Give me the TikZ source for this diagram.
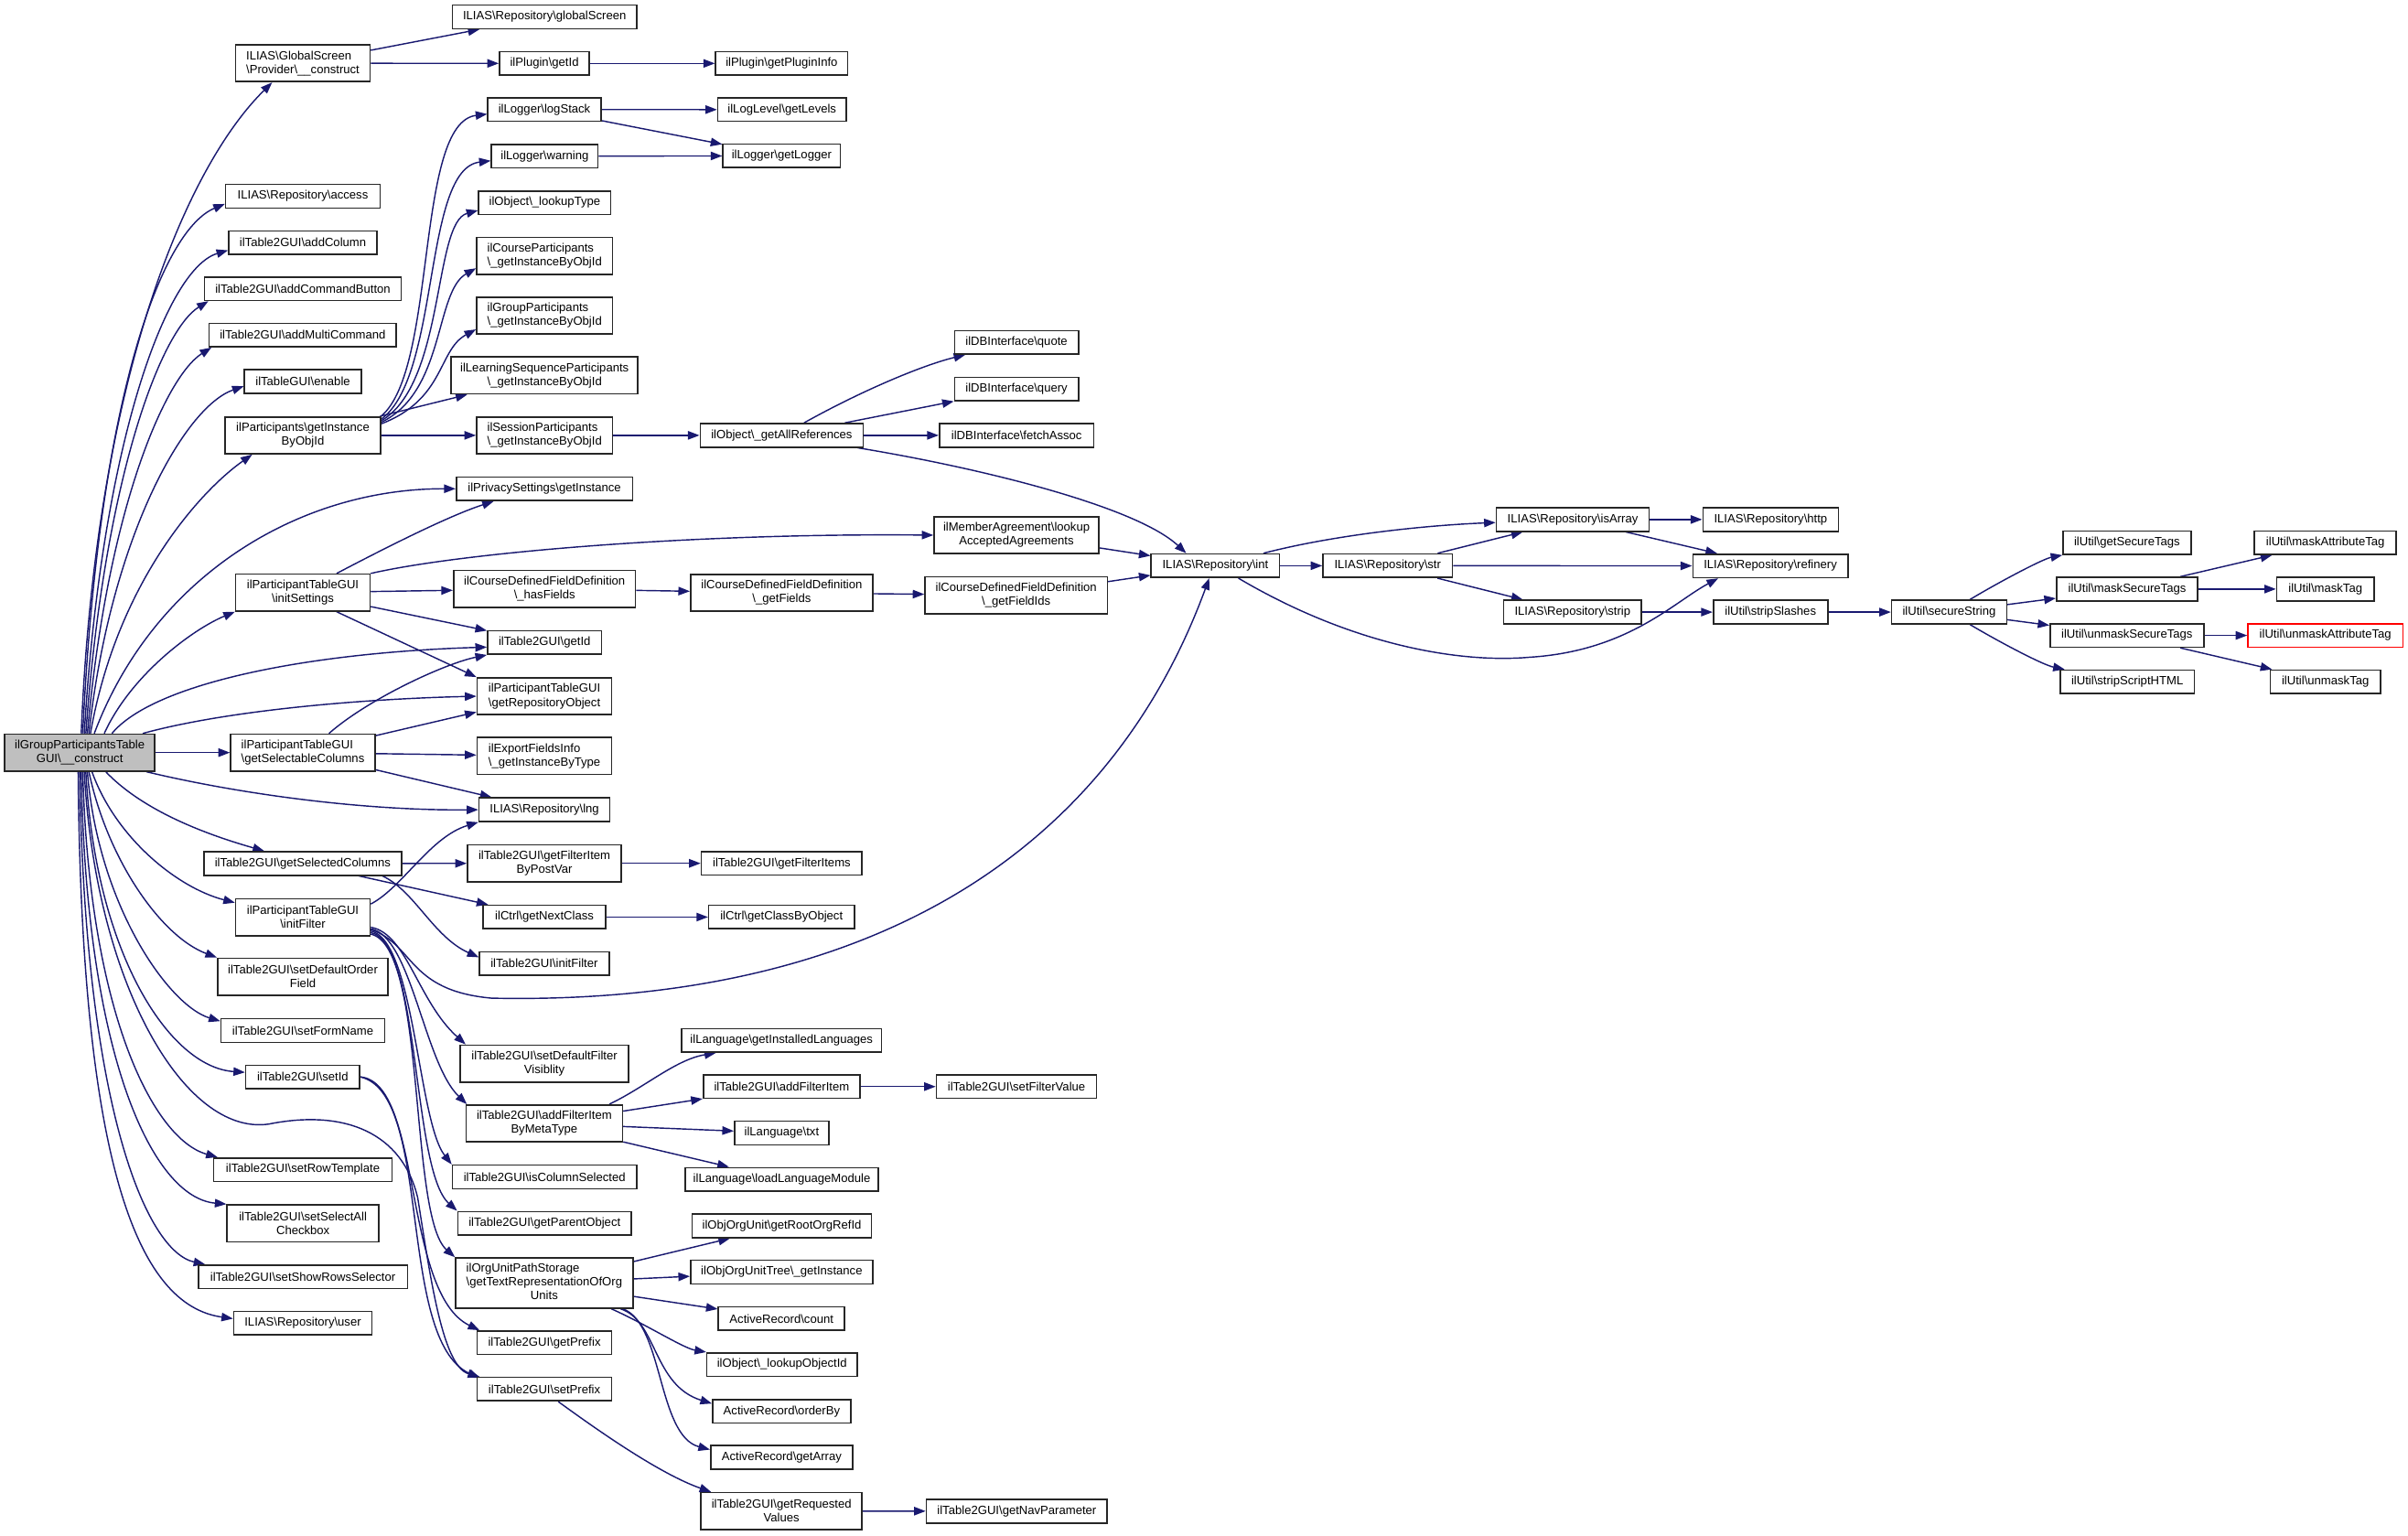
\documentclass[tikz,border=0pt]{standalone}
\usepackage{fontspec}
\setmainfont{Liberation Sans}
\usetikzlibrary{arrows.meta,calc,backgrounds}
\definecolor{mblue}{HTML}{191970}
\definecolor{rootgray}{HTML}{BFBFBF}
\newcommand{\bksl}{\textbackslash}
\begin{document}
\begin{tikzpicture}[x=1pt,y=-1pt,
  nb/.style={draw=black!85, fill=white, line width=0.95pt, inner sep=0pt, font=\fontsize{7.8}{9}\selectfont, minimum height=15.3pt},
  nb2/.style={nb, minimum height=24pt, align=center},
  nbl/.style={nb, minimum height=24pt, align=left},
  edg/.style={draw=mblue, line width=0.85pt, -{Triangle[length=7.5pt,width=5.5pt]}}]
\begin{scope}[on background layer]
\fill[white] (0,0) rectangle (1568,1000);
\end{scope}
\useasboundingbox (0,0) rectangle (1568,1000);

% ---------- nodes ----------
\node[nb2, fill=rootgray, minimum width=97.8pt] (root) at (51.9,490.1) {ilGroupParticipantsTable\\GUI\bksl\_\_construct};

\node[nbl, minimum width=87.5pt] (gs) at (197.2,41.2) {ILIAS\bksl GlobalScreen\\\bksl Provider\bksl\_\_construct};
\node[nb, minimum width=120pt] (glob) at (354.6,11) {ILIAS\bksl Repository\bksl globalScreen};
\node[nb, minimum width=58.5pt] (pgetid) at (354.5,41.3) {ilPlugin\bksl getId};
\node[nb, minimum width=86pt] (pinfo) at (509,41.3) {ilPlugin\bksl getPluginInfo};
\node[nb, minimum width=73.6pt] (logstack) at (354.5,71.3) {ilLogger\bksl logStack};
\node[nb, minimum width=83.7pt] (levels) at (509.2,71.4) {ilLogLevel\bksl getLevels};
\node[nb, minimum width=69.4pt] (warning) at (354.7,101.7) {ilLogger\bksl warning};
\node[nb, minimum width=76.5pt] (getlogger) at (509,101.5) {ilLogger\bksl getLogger};
\node[nb, minimum width=86pt] (lookuptype) at (354.7,132) {ilObject\bksl\_lookupType};
\node[nbl, minimum width=88.4pt] (crsp) at (354.6,166.7) {ilCourseParticipants\\\bksl\_getInstanceByObjId};
\node[nbl, minimum width=88.4pt] (grpp) at (354.6,205.5) {ilGroupParticipants\\\bksl\_getInstanceByObjId};
\node[nb2, minimum width=121.5pt] (lsop) at (354.6,244.5) {ilLearningSequenceParticipants\\\bksl\_getInstanceByObjId};
\node[nbl, minimum width=88.4pt] (sessp) at (354.6,283.5) {ilSessionParticipants\\\bksl\_getInstanceByObjId};
\node[nb2, minimum width=101pt] (partinst) at (197.2,283.5) {ilParticipants\bksl getInstance\\ByObjId};
\node[nb, minimum width=114.7pt] (privacy) at (354.5,318.3) {ilPrivacySettings\bksl getInstance};
\node[nb, minimum width=100.6pt] (access) at (197.2,127.8) {ILIAS\bksl Repository\bksl access};
\node[nb, minimum width=96.5pt] (addcol) at (197.2,158) {ilTable2GUI\bksl addColumn};
\node[nb, minimum width=128.1pt] (addcmd) at (197.2,188) {ilTable2GUI\bksl addCommandButton};
\node[nb, minimum width=121.9pt] (addmulti) at (197.1,218.2) {ilTable2GUI\bksl addMultiCommand};
\node[nb, minimum width=76pt] (enable) at (197.2,248.5) {ilTableGUI\bksl enable};
\node[nb, minimum width=80.7pt] (quote) at (661.9,222.9) {ilDBInterface\bksl quote};
\node[nb, minimum width=80.7pt] (query) at (661.9,253.3) {ilDBInterface\bksl query};
\node[nb, minimum width=100.6pt] (fetch) at (662,283.5) {ilDBInterface\bksl fetchAssoc};
\node[nb, minimum width=106.1pt] (allrefs) at (509,283.5) {ilObject\bksl\_getAllReferences};

\node[nb2, minimum width=87.5pt] (initset) at (197.2,385.9) {ilParticipantTableGUI\\\bksl initSettings};
\node[nb2, minimum width=118.5pt] (hasfields) at (354.6,383.5) {ilCourseDefinedFieldDefinition\\\bksl\_hasFields};
\node[nb, minimum width=74.2pt] (getid) at (354.6,418.4) {ilTable2GUI\bksl getId};
\node[nbl, minimum width=87.6pt] (reposobj) at (354.5,453.4) {ilParticipantTableGUI\\\bksl getRepositoryObject};
\node[nbl, minimum width=94pt] (selcols) at (197.2,490.1) {ilParticipantTableGUI\\\bksl getSelectableColumns};
\node[nbl, minimum width=87.6pt] (export) at (354.5,492.3) {ilExportFieldsInfo\\\bksl\_getInstanceByType};
\node[nb, minimum width=85.2pt] (lng) at (354.5,527.3) {ILIAS\bksl Repository\bksl lng};
\node[nb, minimum width=128.8pt] (selected) at (197.1,562.3) {ilTable2GUI\bksl getSelectedColumns};
\node[nb2, minimum width=100.2pt] (postvar) at (354.5,562.2) {ilTable2GUI\bksl getFilterItem\\ByPostVar};
\node[nb, minimum width=79.6pt] (nextclass) at (354.5,597.2) {ilCtrl\bksl getNextClass};
\node[nb2, minimum width=87.5pt] (initfilter) at (197.2,597.3) {ilParticipantTableGUI\\\bksl initFilter};
\node[nb, minimum width=84.4pt] (t2initfilter) at (354.4,627.4) {ilTable2GUI\bksl initFilter};
\node[nb2, minimum width=111pt] (deforder) at (197.2,636) {ilTable2GUI\bksl setDefaultOrder\\Field};

\node[nb2, minimum width=107.3pt] (member) at (661.9,348.5) {ilMemberAgreement\bksl lookup\\AcceptedAgreements};
\node[nb2, minimum width=118.6pt] (getfields) at (509,386) {ilCourseDefinedFieldDefinition\\\bksl\_getFields};
\node[nb2, minimum width=118.7pt] (getfieldids) at (661.7,387.6) {ilCourseDefinedFieldDefinition\\\bksl\_getFieldIds};
\node[nb, minimum width=104.6pt] (filteritems) at (509,562.2) {ilTable2GUI\bksl getFilterItems};
\node[nb, minimum width=94.8pt] (classbyobj) at (508.9,597.2) {ilCtrl\bksl getClassByObject};

\node[nb, minimum width=83.6pt] (int) at (791.4,368.4) {ILIAS\bksl Repository\bksl int};
\node[nb, minimum width=84.3pt] (str) at (903.6,368.4) {ILIAS\bksl Repository\bksl str};
\node[nb, minimum width=99.5pt] (isarray) at (1024.1,338.3) {ILIAS\bksl Repository\bksl isArray};
\node[nb, minimum width=88.3pt] (http) at (1153,338.3) {ILIAS\bksl Repository\bksl http};
\node[nb, minimum width=101pt] (refinery) at (1152.8,368.5) {ILIAS\bksl Repository\bksl refinery};
\node[nb, minimum width=89.7pt] (strip) at (1024,398.6) {ILIAS\bksl Repository\bksl strip};
\node[nb, minimum width=74.5pt] (slashes) at (1152.9,398.6) {ilUtil\bksl stripSlashes};
\node[nb, minimum width=74.9pt] (secure) at (1269.2,398.6) {ilUtil\bksl secureString};
\node[nb, minimum width=83.3pt] (getsecure) at (1385,353.4) {ilUtil\bksl getSecureTags};
\node[nb, minimum width=92pt] (masksecure) at (1385.1,383.6) {ilUtil\bksl maskSecureTags};
\node[nb, minimum width=100.1pt] (unmasksecure) at (1385,413.8) {ilUtil\bksl unmaskSecureTags};
\node[nb, minimum width=87.4pt] (stripscript) at (1385.2,444) {ilUtil\bksl stripScriptHTML};
\node[nb, minimum width=92.3pt] (maskattr) at (1514.2,353.4) {ilUtil\bksl maskAttributeTag};
\node[nb, minimum width=63.5pt] (masktag) at (1514.2,383.6) {ilUtil\bksl maskTag};
\node[nb, draw=red, minimum width=100.9pt] (unmaskattr) at (1514.2,413.8) {ilUtil\bksl unmaskAttributeTag};
\node[nb, minimum width=71.7pt] (unmasktag) at (1514.2,444) {ilUtil\bksl unmaskTag};

\node[nb, minimum width=106.6pt] (formname) at (197.2,671.1) {ilTable2GUI\bksl setFormName};
\node[nb, minimum width=74.2pt] (setid) at (197.1,701.3) {ilTable2GUI\bksl setId};
\node[nb, minimum width=116.1pt] (rowtpl) at (197.2,761.7) {ilTable2GUI\bksl setRowTemplate};
\node[nb2, minimum width=98.8pt] (selall) at (197.3,796.6) {ilTable2GUI\bksl setSelectAll\\Checkbox};
\node[nb, minimum width=136.2pt] (showrows) at (197.2,831.5) {ilTable2GUI\bksl setShowRowsSelector};
\node[nb, minimum width=90pt] (user) at (197.2,861.7) {ILIAS\bksl Repository\bksl user};
\node[nb2, minimum width=109.7pt] (deffilter) at (354.5,692.6) {ilTable2GUI\bksl setDefaultFilter\\Visiblity};
\node[nb2, minimum width=101.9pt] (bymeta) at (354.4,731.5) {ilTable2GUI\bksl addFilterItem\\ByMetaType};
\node[nb, minimum width=120pt] (iscolsel) at (354.6,766.4) {ilTable2GUI\bksl isColumnSelected};
\node[nb, minimum width=112.9pt] (parentobj) at (354.6,796.6) {ilTable2GUI\bksl getParentObject};
\node[nb, minimum width=115.4pt, minimum height=32.7pt] (orgpath) at (354.4,835.5) {\begin{tabular}{@{}l@{}}ilOrgUnitPathStorage\\\bksl getTextRepresentationOfOrg\\\multicolumn{1}{@{}c@{}}{Units}\end{tabular}};
\node[nb, minimum width=87.6pt] (getprefix) at (354.5,874.4) {ilTable2GUI\bksl getPrefix};
\node[nb, minimum width=87.6pt] (setprefix) at (354.5,904.6) {ilTable2GUI\bksl setPrefix};

\node[nb, minimum width=130.4pt] (instlang) at (508.9,677.5) {ilLanguage\bksl getInstalledLanguages};
\node[nb, minimum width=102.1pt] (addfilteritem) at (509,707.6) {ilTable2GUI\bksl addFilterItem};
\node[nb, minimum width=104.3pt] (setfilterval) at (661.9,707.6) {ilTable2GUI\bksl setFilterValue};
\node[nb, minimum width=61.4pt] (txt) at (509,737.8) {ilLanguage\bksl txt};
\node[nb, minimum width=125.9pt] (loadmod) at (509.1,768) {ilLanguage\bksl loadLanguageModule};
\node[nb, minimum width=116.9pt] (rootorg) at (509.1,798.3) {ilObjOrgUnit\bksl getRootOrgRefId};
\node[nb, minimum width=118.6pt] (orgtree) at (509,828.4) {ilObjOrgUnitTree\bksl\_getInstance};
\node[nb, minimum width=82.2pt] (arcount) at (508.9,858.7) {ActiveRecord\bksl count};
\node[nb, minimum width=97.8pt] (lookupobjid) at (509.2,888.6) {ilObject\bksl\_lookupObjectId};
\node[nb, minimum width=90pt] (orderby) at (509,919) {ActiveRecord\bksl orderBy};
\node[nb, minimum width=92.5pt] (getarray) at (509,949) {ActiveRecord\bksl getArray};
\node[nb2, minimum width=104.8pt] (reqvals) at (508.9,984) {ilTable2GUI\bksl getRequested\\Values};
\node[nb, minimum width=117.8pt] (navparam) at (662.1,984.1) {ilTable2GUI\bksl getNavParameter};

% ---------- edges ----------
\begin{scope}[on background layer]
% root upward
\draw[edg] ($(root.north)+(1,0)$) .. controls (62,250) and (120,110) .. ($(gs.south)+(-20,0)$);
\draw[edg] ($(root.north)+(2,0)$) .. controls (64,260) and (105,150) .. ($(access.west)+(0,5)$);
\draw[edg] ($(root.north)+(3,0)$) .. controls (66,290) and (108,175) .. ($(addcol.west)+(0,5)$);
\draw[edg] ($(root.north)+(4,0)$) .. controls (68,310) and (105,215) .. ($(addcmd.south west)+(3,0)$);
\draw[edg] ($(root.north)+(5,0)$) .. controls (70,330) and (108,245) .. ($(addmulti.south west)+(2,0)$);
\draw[edg] ($(root.north)+(6,0)$) .. controls (72,350) and (120,265) .. ($(enable.west)+(0,3)$);
\draw[edg] ($(root.north)+(7,0)$) .. controls (76,380) and (130,320) .. ($(partinst.south west)+(18,0)$);
\draw[edg] ($(root.north)+(9.5,0)$) .. controls (100,375) and (195,318) .. (privacy.west);
\draw[edg] ($(root.north)+(16,0)$) .. controls (85,440) and (125,410) .. (initset.south west);
\draw[edg] ($(root.north)+(21,0)$) .. controls (100,445) and (200,425) .. ($(getid.west)+(0,3)$);
\draw[edg] ($(root.north)+(41,0)$) .. controls (150,462) and (240,455) .. (reposobj.west);
\draw[edg] (root) -- (selcols);
% root downward
\draw[edg] ($(root.south)+(43.4,0)$) .. controls (160,518) and (240,528) .. (lng.west);
\draw[edg] ($(root.south)+(17,0)$) .. controls (95,530) and (140,545) .. ($(selected.north)+(-25,0)$);
\draw[edg] ($(root.south)+(8,0)$) .. controls (75,545) and (115,578) .. ($(initfilter.north west)+(0,3)$);
\draw[edg] ($(root.south)+(6,0)$) .. controls (70,560) and (105,610) .. (deforder.north west);
\draw[edg] ($(root.south)+(5,0)$) .. controls (64,590) and (110,655) .. ($(formname.north west)+(0,2)$);
\draw[edg] ($(root.south)+(4,0)$) .. controls (62,620) and (110,695) .. ($(setid.west)+(0,-3)$);
\draw[edg] ($(root.south)+(3,0)$) .. controls (62,640) and (120,740) .. (175,732) .. controls (225,722) and (262,738) .. (272,780) .. controls (280,830) and (288,890) .. ($(setprefix.north west)+(2,0)$);
\draw[edg] ($(root.south)+(2,0)$) .. controls (58,660) and (100,742) .. ($(rowtpl.north west)+(3,0)$);
\draw[edg] ($(root.south)+(1,0)$) .. controls (56,690) and (100,780) .. (selall.north west);
\draw[edg] ($(root.south)+(0,0)$) .. controls (55,720) and (95,815) .. ($(showrows.north west)+(5,0)$);
\draw[edg] ($(root.south)+(-1,0)$) .. controls (53,760) and (90,850) .. ($(user.west)+(0,-3)$);

% GlobalScreen provider
\draw[edg] (gs) -- (glob);
\draw[edg] (gs) -- (pgetid);
\draw[edg] (pgetid) -- (pinfo);
\draw[edg] (logstack) -- (levels);
\draw[edg] (logstack) -- (getlogger);
\draw[edg] (warning) -- (getlogger);

% participants getInstance
\draw[edg] (partinst.north east) .. controls (285,240) and (270,80) .. ($(logstack.west)+(0,3)$);
\draw[edg] ($(partinst.north east)+(0,2)$) .. controls (287,245) and (275,110) .. ($(warning.west)+(0,3)$);
\draw[edg] ($(partinst.north east)+(0,3)$) .. controls (290,250) and (282,145) .. ($(lookuptype.west)+(0,5)$);
\draw[edg] ($(partinst.north east)+(0,4)$) .. controls (290,255) and (283,190) .. ($(crsp.west)+(0,8)$);
\draw[edg] ($(partinst.north east)+(0,5)$) .. controls (290,260) and (285,228) .. ($(grpp.west)+(0,9)$);
\draw[edg] (partinst) -- (lsop);
\draw[edg] (partinst) -- (sessp);
\draw[edg] (sessp) -- (allrefs);
\draw[edg] (allrefs) .. controls (560,255) and (600,238) .. (quote);
\draw[edg] (allrefs) -- (query);
\draw[edg] (allrefs) -- (fetch);
\draw[edg] (allrefs) .. controls (640,305) and (740,330) .. ($(int.north)+(-19,0)$);

% initSettings
\draw[edg] ($(initset.north)+(22,0)$) .. controls (260,352) and (295,335) .. ($(privacy.south)+(-33,0)$);
\draw[edg] (initset.north east) .. controls (300,360) and (450,347) .. (member.west);
\draw[edg] (initset) -- (hasfields);
\draw[edg] (initset) -- (getid);
\draw[edg] ($(initset.south)+(22,0)$) -- (reposobj.north west);
\draw[edg] (hasfields) -- (getfields);
\draw[edg] (getfields) -- (getfieldids);
\draw[edg] (member) -- (int);
\draw[edg] (getfieldids) -- (int);

% Repository int chain
\draw[edg] (int) .. controls (870,348) and (930,342) .. (isarray);
\draw[edg] (int) -- (str);
\draw[edg] ($(int.south)+(15,0)$) .. controls (880,420) and (950,432) .. (996,428) .. controls (1060,424) and (1090,392) .. ($(refinery.south)+(-34,0)$);
\draw[edg] (str) -- (isarray);
\draw[edg] (str) -- (refinery);
\draw[edg] (str) -- (strip);
\draw[edg] (isarray) -- (http);
\draw[edg] (isarray) -- (refinery);
\draw[edg] (strip) -- (slashes);
\draw[edg] (slashes) -- (secure);
\draw[edg] (secure) .. controls (1300,380) and (1330,364) .. (getsecure);
\draw[edg] (secure) -- (masksecure);
\draw[edg] (secure) -- (unmasksecure);
\draw[edg] (secure) .. controls (1300,417) and (1330,433) .. (stripscript);
\draw[edg] (masksecure) -- (maskattr);
\draw[edg] (masksecure) -- (masktag);
\draw[edg] (unmasksecure) -- (unmaskattr);
\draw[edg] (unmasksecure) -- (unmasktag);

% selectable columns
\draw[edg] ($(selcols.north)+(17,0)$) .. controls (240,455) and (290,432) .. (getid.south west);
\draw[edg] (selcols) -- (reposobj);
\draw[edg] (selcols) -- (export);
\draw[edg] (selcols) -- (lng);

% selected columns
\draw[edg] (selected) -- (postvar);
\draw[edg] (selected) -- (nextclass);
\draw[edg] ($(selected.south east)+(-13,0)$) .. controls (270,580) and (282,610) .. ($(t2initfilter.west)+(0,-4)$);
\draw[edg] (postvar) -- (filteritems);
\draw[edg] (nextclass) -- (classbyobj);

% initFilter
\draw[edg] ($(initfilter.east)+(0,-8.6)$) .. controls (262,578) and (280,545) .. (lng.south west);
\draw[edg] ($(initfilter.east)+(0,8)$) .. controls (270,615) and (265,645) .. (320,650) .. controls (560,655) and (720,560) .. ($(int.south)+(-4,0)$);
\draw[edg] ($(initfilter.east)+(0,6.5)$) .. controls (265,608) and (272,652) .. ($(deffilter.north west)+(4,0)$);
\draw[edg] ($(initfilter.east)+(0,7.5)$) .. controls (268,610) and (276,692) .. ($(bymeta.north west)+(1,0)$);
\draw[edg] ($(initfilter.east)+(0,9)$) .. controls (270,612) and (272,730) .. (iscolsel.north west);
\draw[edg] ($(initfilter.east)+(0,10)$) .. controls (274,614) and (268,762) .. (parentobj.north west);
\draw[edg] ($(initfilter.east)+(0,11)$) .. controls (278,616) and (266,792) .. (orgpath.north west);

% setId
\draw[edg] (setid.east) .. controls (275,705) and (262,842) .. ($(getprefix.north west)+(2,0)$);
\draw[edg] (setid.east) .. controls (282,712) and (258,872) .. ($(setprefix.north west)+(2,1)$);

% addFilterItemByMetaType
\draw[edg] ($(bymeta.north east)+(-9,0)$) .. controls (420,708) and (440,690) .. ($(instlang.south west)+(23,0)$);
\draw[edg] (bymeta) -- (addfilteritem);
\draw[edg] (bymeta) -- (txt);
\draw[edg] (bymeta) -- (loadmod);
\draw[edg] (addfilteritem) -- (setfilterval);

% OrgUnitPathStorage
\draw[edg] (orgpath) -- (rootorg);
\draw[edg] (orgpath) -- (orgtree);
\draw[edg] (orgpath) -- (arcount);
\draw[edg] ($(orgpath.south east)+(-14.5,0)$) .. controls (420,862) and (445,878) .. (lookupobjid.north west);
\draw[edg] ($(orgpath.south east)+(-8.5,0)$) .. controls (428,860) and (425,902) .. ($(orderby.west)+(0,-5)$);
\draw[edg] ($(orgpath.south east)+(-7,0)$) .. controls (432,862) and (428,935) .. ($(getarray.west)+(0,-5)$);

% setPrefix
\draw[edg] ($(setprefix.south)+(9,0)$) .. controls (390,932) and (430,960) .. ($(reqvals.north west)+(7,0)$);
\draw[edg] (reqvals) -- (navparam);
\end{scope}
\end{tikzpicture}
\end{document}
